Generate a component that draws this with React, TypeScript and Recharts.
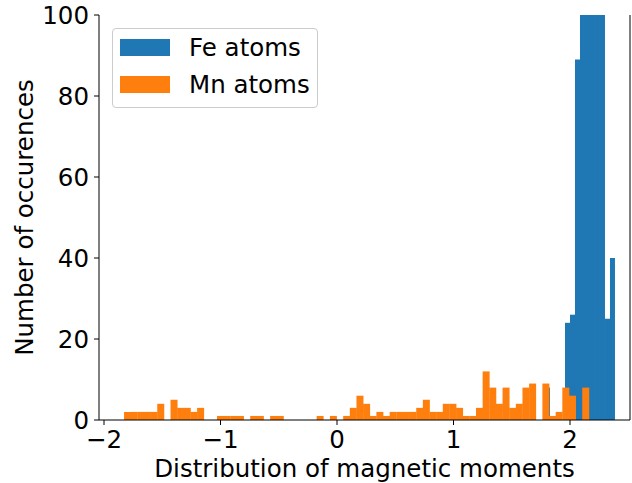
import React from 'react';
import { ComposedChart, Bar, XAxis, YAxis, Legend } from 'recharts';

// bin centres and counts
const mnBins = [
  -1.7995, -1.7425, -1.6855, -1.6285, -1.5715, -1.5145, -1.4575, -1.4005, -1.3435, -1.2865,
  -1.2295, -1.1725, -1.1155, -1.0585, -1.0015, -0.9445, -0.8875, -0.8305, -0.7735, -0.7165,
  -0.6595, -0.6025, -0.5455, -0.4885, -0.4315, -0.3745, -0.3175, -0.2605, -0.2035, -0.1465,
  -0.0895, -0.0325, 0.0245, 0.0815, 0.1385, 0.1955, 0.2525, 0.3095, 0.3665, 0.4235,
  0.4805, 0.5375, 0.5945, 0.6515, 0.7085, 0.7655, 0.8225, 0.8795, 0.9365, 0.9935,
  1.0505, 1.1075, 1.1645, 1.2215, 1.2785, 1.3355, 1.3925, 1.4495, 1.5065, 1.5635,
  1.6205, 1.6775, 1.7345, 1.7915, 1.8485, 1.9055, 1.9625, 2.0195, 2.0765, 2.1335,
];
const mnCounts = [
  2, 2, 2, 2, 2, 4, 0, 5, 3, 3,
  2, 3, 0, 0, 1, 1, 1, 1, 0, 1,
  1, 0, 1, 1, 0, 0, 0, 0, 0, 1,
  0, 1, 0, 1, 3, 6, 4, 1, 2, 1,
  2, 2, 2, 2, 3, 5, 2, 2, 4, 4,
  3, 1, 1, 3, 12, 8, 4, 8, 3, 4,
  8, 9, 0, 9, 1, 2, 8, 6, 0, 8,
];

const feBins = [1.8069, 1.8498, 1.8927, 1.9356, 1.9785, 2.0214, 2.0643, 2.1072, 2.1501, 2.193, 2.2359, 2.2788, 2.3217, 2.3646];
// the middle bins run past the top of the axis (clipped at 100)
const feCounts = [8, 0, 0, 0, 24, 26, 89, 140, 210, 230, 190, 130, 25, 40];

const xTicks = [-2, -1, 0, 1, 2];
const yTicks = [0, 20, 40, 60, 80, 100];

const FE_COLOR = '#1f77b4';
const MN_COLOR = '#ff7f0e';
const legendItems = [
  { name: 'Fe atoms', color: FE_COLOR },
  { name: 'Mn atoms', color: MN_COLOR },
];

const feData = feBins.map((x, i) => ({ x, count: feCounts[i] }));
const mnData = mnBins.map((x, i) => ({ x, count: mnCounts[i] }));

const W = 632;
const H = 483;
const FS = 24.5;
const X_DOMAIN = [-2.043, 2.515];
const fmt = (v: number) => (v < 0 ? '\u2212' + Math.abs(v) : String(v));
const tickStyle = { fontSize: FS, fill: '#000' };

function LegendBox() {
  return (
    <div
      style={{
        width: 206,
        height: 80,
        boxSizing: 'border-box',
        border: '1px solid #cccccc',
        borderRadius: 4,
        background: 'rgba(255,255,255,0.8)',
        paddingTop: 10,
      }}
    >
      {legendItems.map((it, i) => (
        <div key={it.name} style={{ display: 'flex', alignItems: 'center', height: 17, marginTop: i ? 20 : 0, marginLeft: 7 }}>
          <div style={{ width: 50, height: 17, flex: 'none', background: it.color }} />
          <span style={{ marginLeft: 19, fontSize: FS, lineHeight: '17px', color: '#000', whiteSpace: 'nowrap' }}>{it.name}</span>
        </div>
      ))}
    </div>
  );
}

function YLabel({ viewBox }: any) {
  const cy = viewBox.y + viewBox.height / 2;
  return (
    <text x={33} y={cy} transform={`rotate(-90 33 ${cy})`} textAnchor="middle" fontSize={FS} fill="#000">
      Number of occurences
    </text>
  );
}

export default function App() {
  return (
    <div style={{ position: 'absolute', left: 0, top: 0, width: W, height: H, fontFamily: '"DejaVu Sans", sans-serif', background: '#fff' }}>
      {/* Fe layer, drawn underneath */}
      <div style={{ position: 'absolute', left: 0, top: 0 }}>
        <ComposedChart width={W} height={H} data={feData} margin={{ top: 15, right: 2, left: 99, bottom: 63 }} barCategoryGap={0} barGap={0}>
          <XAxis dataKey="x" type="number" domain={X_DOMAIN} allowDataOverflow hide />
          <YAxis type="number" domain={[0, 100]} allowDataOverflow hide />
          <Bar dataKey="count" fill={FE_COLOR} isAnimationActive={false} />
        </ComposedChart>
      </div>
      {/* Mn layer with axes, frame and legend */}
      <div style={{ position: 'absolute', left: 0, top: 0 }}>
        <ComposedChart width={W} height={H} data={mnData} margin={{ top: 15, right: 0, left: 0, bottom: 0 }} barCategoryGap={0} barGap={0}>
          <Bar dataKey="count" fill={MN_COLOR} isAnimationActive={false} />
          <XAxis
            dataKey="x"
            type="number"
            domain={X_DOMAIN}
            allowDataOverflow
            ticks={xTicks}
            tickFormatter={fmt}
            height={63}
            tickSize={5}
            tickMargin={6}
            tick={tickStyle}
            stroke="#000"
            label={{ value: 'Distribution of magnetic moments', position: 'insideBottom', offset: 6, fontSize: FS, fill: '#000' }}
          />
          <XAxis xAxisId="top" orientation="top" type="number" domain={X_DOMAIN} height={0} tick={false} tickLine={false} stroke="#000" />
          <YAxis
            type="number"
            domain={[0, 100]}
            allowDataOverflow
            ticks={yTicks}
            width={99}
            tickSize={5}
            tickMargin={5}
            tick={tickStyle}
            stroke="#000"
            label={<YLabel />}
          />
          <YAxis yAxisId="right" orientation="right" type="number" domain={[0, 100]} width={2} tick={false} tickLine={false} stroke="#000" />
          <Legend
            layout="vertical"
            align="center"
            verticalAlign="middle"
            content={() => <LegendBox />}
            wrapperStyle={{ left: 112, top: 28, width: 206, height: 80 }}
          />
        </ComposedChart>
      </div>
    </div>
  );
}
